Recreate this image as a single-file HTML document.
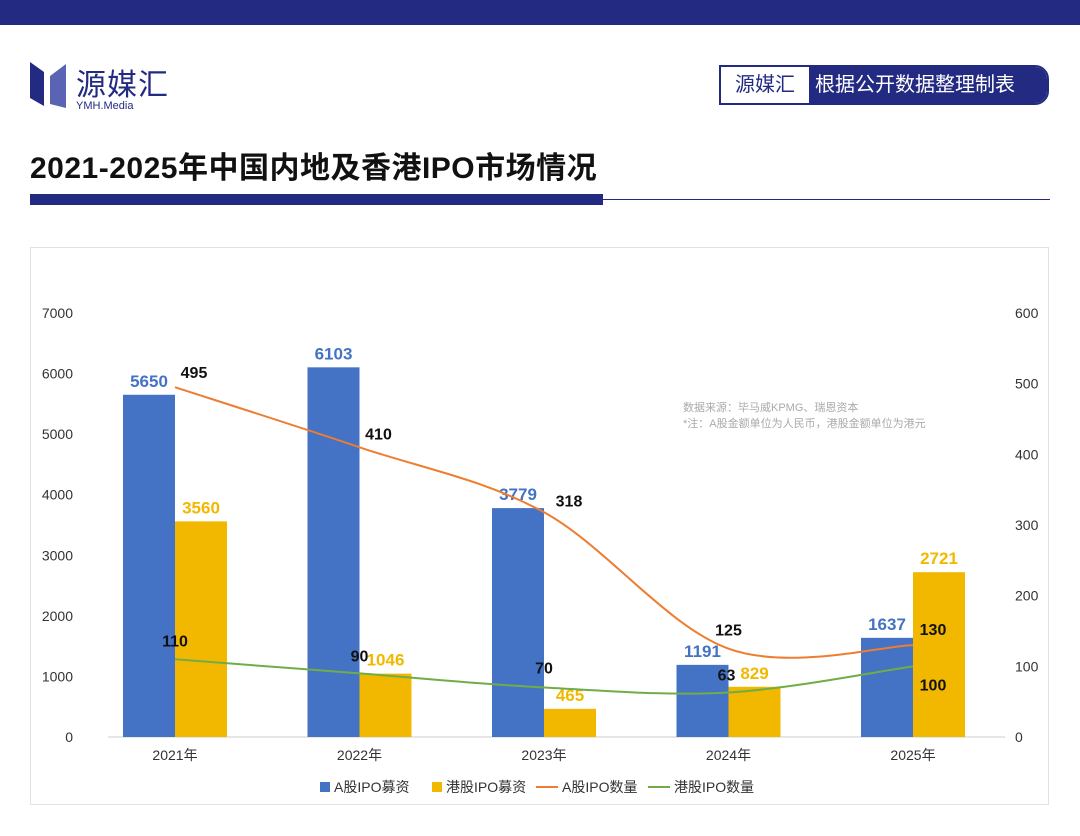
<!DOCTYPE html>
<html><head><meta charset="utf-8"><style>
body{margin:0;width:1080px;height:836px;background:#fff;font-family:"Liberation Sans","Noto Sans CJK SC",sans-serif;position:relative;overflow:hidden}
.abs{position:absolute}
</style></head><body>
<div class="abs" style="left:0;top:0;width:1080px;height:25px;background:#232a82"></div>
<div class="abs" style="left:30px;top:60px;width:150px;height:56px">
<svg width="50" height="50" style="position:absolute;left:0;top:0"><polygon points="0,2 14,12 14,46 0,38" fill="#232a82"/><polygon points="20,16 36,4 36,48 20,44" fill="#5b63b5"/></svg>
<div class="abs" style="left:46px;top:0px;font-size:30px;color:#232a82;letter-spacing:1px">源媒汇</div>
<div class="abs" style="left:46px;top:40px;font-size:11px;color:#232a82">YMH.Media</div>
</div>
<div class="abs" style="left:719px;top:65px;width:330px;height:40px;border:2px solid #232a82;border-radius:0 14px 14px 0;box-sizing:border-box;display:flex;overflow:hidden">
<div style="width:88px;text-align:center;line-height:36px;font-size:20px;color:#232a82">源媒汇</div>
<div style="flex:1;background:#232a82;color:#fff;line-height:36px;font-size:20px;padding-left:6px">根据公开数据整理制表</div>
</div>
<div class="abs" style="left:30px;top:143px;font-size:30px;font-weight:bold;color:#111;letter-spacing:0.5px">2021-2025年中国内地及香港IPO市场情况</div>
<div class="abs" style="left:30px;top:194px;width:573px;height:11px;background:#232a82"></div>
<div class="abs" style="left:603px;top:199px;width:447px;height:1px;background:#232a82"></div>
<div class="abs" style="left:30px;top:247px;width:1019px;height:558px;border:1px solid #e2e2e2;box-sizing:border-box"></div>
<svg class="abs" style="left:0;top:0" width="1080" height="836" id="chart"></svg>
<script>
const categories=["2021年","2022年","2023年","2024年","2025年"];
const aFunds=[5650,6103,3779,1191,1637];
const hkFunds=[3560,1046,465,829,2721];
const aCount=[495,410,318,125,130];
const hkCount=[110,90,70,63,100];
const leftTicks=[0,1000,2000,3000,4000,5000,6000,7000];
const rightTicks=[0,100,200,300,400,500,600];
const aLblOff=[[19,-15],[19,-14],[25,-12],[0,-19],[20,-16]];
const hkLblOff=[[0,-19],[0,-18],[0,-20],[-2,-18],[20,18]];
const NS="http://www.w3.org/2000/svg",svg=document.getElementById('chart');
const x0=175,dx=184.5,yB=737,yT=313;
const xc=i=>x0+i*dx;
const yL=v=>yB-(v/7000)*(yB-yT);
const yR=v=>yB-(v/600)*(yB-yT);
function mk(t,a,txt){const e=document.createElementNS(NS,t);for(const k in a)e.setAttribute(k,a[k]);if(txt!=null)e.textContent=txt;svg.appendChild(e);return e;}
let g=mk('line',{x1:108,x2:1005,y1:yB,y2:yB,stroke:'#ccc'});


leftTicks.forEach(v=>{const t=mk('text',{x:73,y:yL(v)+5,'text-anchor':'end','font-size':14,fill:'#333'},v);

});
rightTicks.forEach(v=>{const t=mk('text',{x:1015,y:yR(v)+5,'font-size':14,fill:'#333'},v);

});
categories.forEach((c,i)=>{const t=mk('text',{x:xc(i),y:760,'text-anchor':'middle','font-size':14,fill:'#333'},c);

});
const bw=52;
aFunds.forEach((v,i)=>{const r=mk('rect',{x:xc(i)-bw,y:yL(v),width:bw,height:yB-yL(v),fill:'#4472c4'});


const t=mk('text',{x:xc(i)-bw/2,y:yL(v)-8,'text-anchor':'middle','font-size':17,'font-weight':'bold',fill:'#4472c4'},v);

});
hkFunds.forEach((v,i)=>{const r=mk('rect',{x:xc(i),y:yL(v),width:bw,height:yB-yL(v),fill:'#f2b800'});


const t=mk('text',{x:xc(i)+bw/2,y:yL(v)-8,'text-anchor':'middle','font-size':17,'font-weight':'bold',fill:'#f2b800'},v);

});
function smooth(pts){let d=`M${pts[0][0]},${pts[0][1]}`;for(let i=0;i<pts.length-1;i++){const p0=pts[i-1]||pts[i],p1=pts[i],p2=pts[i+1],p3=pts[i+2]||p2;const t=0.5/3;d+=` C${p1[0]+(p2[0]-p0[0])*t},${p1[1]+(p2[1]-p0[1])*t} ${p2[0]-(p3[0]-p1[0])*t},${p2[1]-(p3[1]-p1[1])*t} ${p2[0]},${p2[1]}`;}return d;}
const pa=mk('path',{d:smooth(aCount.map((v,i)=>[xc(i),yR(v)])),fill:'none',stroke:'#ed7d31','stroke-width':2});


const ph=mk('path',{d:smooth(hkCount.map((v,i)=>[xc(i),yR(v)])),fill:'none',stroke:'#70ad47','stroke-width':2});


aCount.forEach((v,i)=>{const t=mk('text',{x:xc(i)+aLblOff[i][0],y:yR(v)+aLblOff[i][1]+6,'text-anchor':'middle','font-size':16,'font-weight':'bold',fill:'#111'},v);

});
hkCount.forEach((v,i)=>{const t=mk('text',{x:xc(i)+hkLblOff[i][0],y:yR(v)+hkLblOff[i][1]+6,'text-anchor':'middle','font-size':16,'font-weight':'bold',fill:'#111'},v);

});
let n=mk('text',{x:683,y:411,'font-size':11,fill:'#aaa'},'数据来源：毕马威KPMG、瑞恩资本');


n=mk('text',{x:683,y:427,'font-size':11,fill:'#aaa'},'*注：A股金额单位为人民币，港股金额单位为港元');


const legend=[['rect','#4472c4','A股IPO募资',320],['rect','#f2b800','港股IPO募资',432],['line','#ed7d31','A股IPO数量',540],['line','#70ad47','港股IPO数量',652]];
legend.forEach(l=>{let s;if(l[0]=='rect')s=mk('rect',{x:l[3],y:782,width:10,height:10,fill:l[1]});else s=mk('line',{x1:l[3]-4,x2:l[3]+18,y1:787,y2:787,stroke:l[1],'stroke-width':2});


const t=mk('text',{x:l[3]+(l[0]=='rect'?14:22),y:792,'font-size':14,fill:'#333'},l[2]);

});
</script>
</body></html>
